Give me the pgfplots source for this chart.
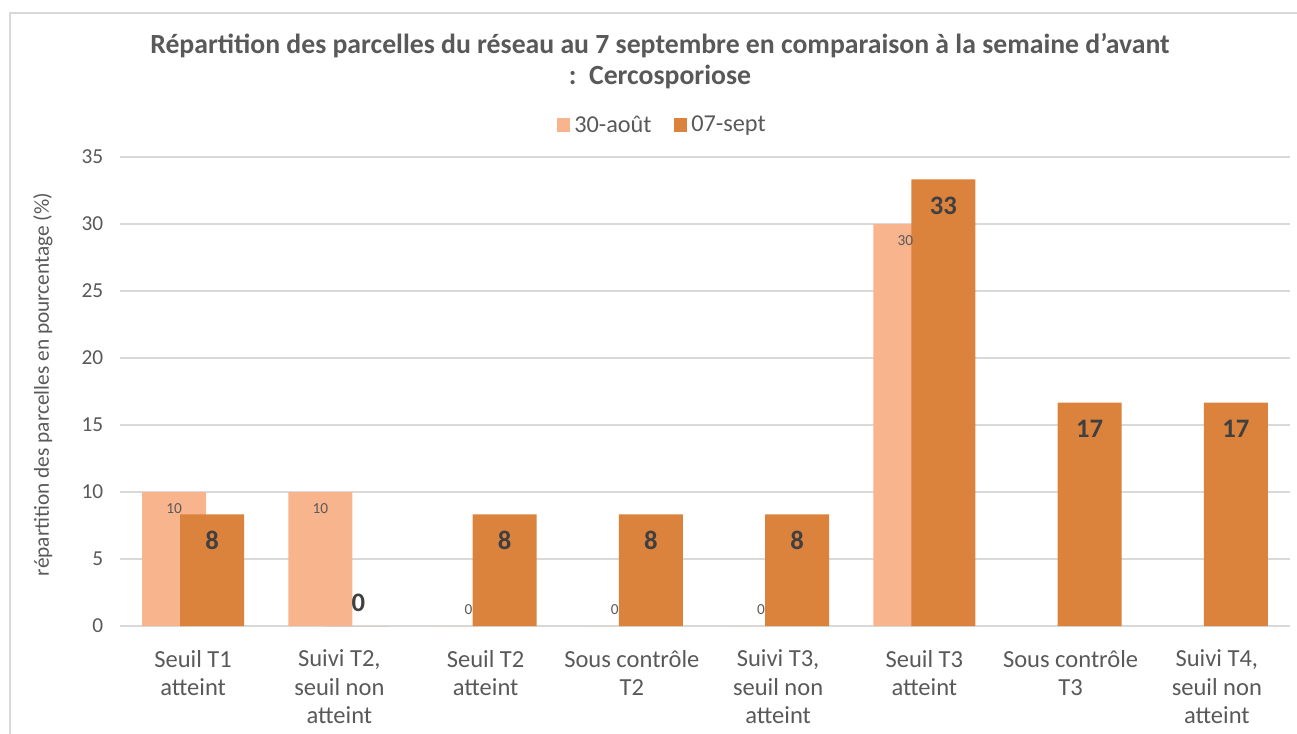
\documentclass[border=0pt]{standalone}
\usepackage{pgfplots}
\pgfplotsset{compat=1.18}
\usepackage{pgfplotstable}
\usepackage{fontspec}
\setmainfont{Carlito}
\definecolor{lightbar}{HTML}{F8B48D}
\definecolor{darkbar}{HTML}{DB823D}
\definecolor{txt}{HTML}{595959}
\definecolor{lbl}{HTML}{404040}
\definecolor{gridc}{HTML}{D9D9D9}

\pgfplotstableread{
x aout
0 10
1 10
2 0
3 0
4 0
5 30
}\aout
\pgfplotstableread{
x sept
0 8.33
1 0
2 8.33
3 8.33
4 8.33
5 33.33
6 16.67
7 16.67
}\sept

\begin{document}
\begin{tikzpicture}
\useasboundingbox (0,0) rectangle (972.75pt,549.75pt);
\draw[gridc, line width=1pt] (7.5pt,-1pt) -- (7.5pt,540pt) -- (974pt,540pt);
\node[font=\bfseries\fontsize{20.8}{23}\selectfont, text=txt, align=center] at (495pt,504pt)
  {Répartition des parcelles du réseau au 7 septembre en comparaison à la semaine d{\char"0027}avant\\ :\ \ Cercosporiose};
\begin{axis}[
  at={(90pt,80.25pt)}, anchor=south west,
  scale only axis, width=877.5pt, height=351.75pt,
  xmin=-0.5, xmax=7.5, ymin=0, ymax=35,
  ytick={0,5,...,35},
  xtick={0,...,7},
  /pgf/number format/assume math mode=true,
  xticklabels={{Seuil T1\\atteint},{Suivi T2,\\seuil non\\atteint},{Seuil T2\\atteint},{Sous contrôle\\T2},{Suivi T3,\\seuil non\\atteint},{Seuil T3\\atteint},{Sous contrôle\\T3},{Suivi T4,\\seuil non\\atteint}},
  x tick label style={align=center, font=\fontsize{18.4}{21.2}\selectfont, text=txt, anchor=north, yshift=-14.5pt},
  y tick label style={font=\fontsize{16}{18}\selectfont, text=txt, anchor=east, xshift=-9pt},
  major tick length=0pt,
  axis line style={draw=none},
  ymajorgrids, grid style={gridc, line width=1pt},
  ylabel={répartition des parcelles en pourcentage (\%)},
  every axis y label/.style={at={(axis description cs:-0.0658,0.515)}, rotate=90, anchor=center, font=\fontsize{16}{19}\selectfont, text=txt},
  legend style={at={(axis description cs:0.4645,1.068)}, anchor=center, draw=none, fill=none, font=\fontsize{18.2}{21}\selectfont, text=txt, legend columns=2, /tikz/every even column/.append style={column sep=14pt}, /tikz/every node/.append style={inner xsep=3pt}},
  legend image code/.code={\fill[#1] (0pt,-5pt) rectangle (9.75pt,5.25pt);},
  clip=false,
]
\addplot[ybar, bar width=0.4375, bar shift=-0.13, fill=lightbar, draw=none] table[x=x,y=aout]{\aout};
\addlegendentry{30-août}
\addplot[ybar, bar width=0.4375, bar shift=0.13, fill=darkbar, draw=none] table[x=x,y=sept]{\sept};
\addlegendentry{07-sept}
% labels
\addplot[forget plot, ybar, bar width=0.4375, bar shift=-0.13, draw=none, fill=none,
  restrict y to domain=1:100,
  nodes near coords, every node near coord/.append style={anchor=center, xshift=-14.25pt, yshift=-12.75pt, font=\fontsize{11.5}{13}\selectfont, text=txt}] table[x=x,y=aout]{\aout};
\addplot[forget plot, ybar, bar width=0.4375, bar shift=-0.13, draw=none, fill=none,
  restrict y to domain=-1:0.5,
  nodes near coords, every node near coord/.append style={anchor=center, xshift=-12.75pt, yshift=12pt, font=\fontsize{11.5}{13}\selectfont, text=txt}] table[x=x,y=aout]{\aout};
\addplot[forget plot, ybar, bar width=0.4375, bar shift=0.13, draw=none, fill=none,
  restrict y to domain=1:100,
  nodes near coords={\pgfmathprintnumber[fixed,precision=0]{\pgfplotspointmeta}}, every node near coord/.append style={anchor=center, xshift=14.25pt, yshift=-19.5pt, font=\bfseries\fontsize{20}{24}\selectfont, text=lbl}] table[x=x,y=sept]{\sept};
\addplot[forget plot, ybar, bar width=0.4375, bar shift=0.13, draw=none, fill=none,
  restrict y to domain=-1:0.5,
  nodes near coords={\pgfmathprintnumber[fixed,precision=0]{\pgfplotspointmeta}}, every node near coord/.append style={anchor=center, xshift=14.25pt, yshift=17.25pt, font=\bfseries\fontsize{20}{24}\selectfont, text=lbl}] table[x=x,y=sept]{\sept};
\end{axis}
\end{tikzpicture}
\end{document}
